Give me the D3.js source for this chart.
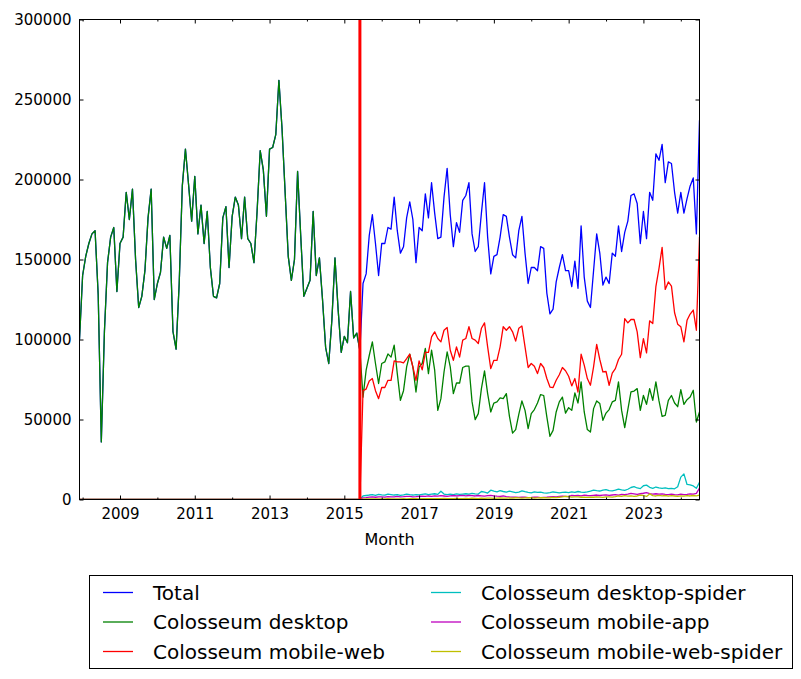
<!DOCTYPE html>
<html><head><meta charset="utf-8">
<script src="https://cdn.jsdelivr.net/npm/d3@7"></script>
<style>body{margin:0;background:#fff} svg{display:block} text{font-family:"DejaVu Sans",sans-serif}</style>
</head><body><svg id="c" width="801" height="679"></svg>
<script>
// Monthly page views, Dec 2007 .. Jul 2024
const firstYear = 2007, firstMonth = 12; // month index 0 = 2007-12
// Legacy counts (Dec 2007 .. Jun 2015): Total == Colosseum desktop
const legacyViews = [
100000,140000,152000,160000,166000,168000,128000,36000,105000,148000,164000,170000,
130000,160000,164000,192000,175000,194000,150000,120000,127000,143000,176000,194000,
125000,135000,142000,164000,157000,165000,105000,94000,135000,196000,219000,197000,
174000,202000,166000,184000,160000,180000,145000,127000,126000,135000,176000,183000,
145000,177000,189000,184000,163000,189000,163000,160000,148000,180000,218000,206000,
177000,219000,220000,228000,262000,232000,192000,152000,137000,150000,205000,165000,
127000,132000,137000,180000,140000,151000,125000,95000,85000,112000,151000,119000,
92000,102000,98000,130000,101000,104000,93000];
// Jul 2015 .. Jul 2024
const totalNew = [
135000,141000,165000,178000,160000,140000,160000,160000,170000,169000,189000,168000,
154000,158000,176000,186000,175000,148000,170000,168000,191000,176000,198000,179000,
163000,164000,189000,207000,178000,158000,173000,167000,187000,190000,198000,166000,
155000,158000,179000,198000,164000,141000,152000,153000,164000,178000,177000,164000,
153000,151000,168000,177000,154000,135000,145000,145000,143000,158000,157000,129000,
116000,119000,136000,145000,153000,143000,143000,133000,149000,132000,171000,139000,
124000,120000,143000,166000,154000,134000,139000,135000,154000,152000,171000,155000,
167000,174000,190000,191000,185000,160000,180000,163000,192000,187000,216000,212000,
222000,198000,211000,210000,192000,179000,192000,179000,188000,196000,201000,166000,237000];
const desktopNew = [
64000,80800,90000,98500,85000,72500,85000,86000,91000,89000,96500,78700,
62000,68000,82900,90800,82900,67200,82900,85000,94400,78700,93300,80800,
55700,63000,79700,92200,82900,66200,72800,72800,82500,83300,83300,61000,
49900,53700,69300,80400,66200,54700,60300,61000,63500,63000,66200,52000,
41500,43700,53200,61600,55700,44300,53700,56200,60300,65600,65000,51600,
39500,43200,54700,61000,64000,54000,57400,55700,66600,60300,73500,54700,
43700,42200,56800,61600,60000,49500,54000,56200,61000,62000,73500,55700,
44900,56200,67200,67800,69300,55700,65000,59500,69300,62000,73500,61600,
52000,52600,62000,65000,60300,58000,68700,59500,62400,64000,68300,48400,54700];
const mobileWebNew = [
68000,69000,74000,75600,68000,63000,70000,70000,74500,74500,86600,86000,
86000,85400,88000,90800,82900,74500,86600,81000,92000,92000,101600,104800,
100600,98500,105800,107500,93300,87000,95400,89000,99600,100600,108000,100600,
99600,97500,107000,110400,95400,81800,87000,87000,95400,108000,105800,108000,
104800,99000,107000,108400,95400,82500,85000,83300,78700,85000,82500,75600,
70300,70000,74500,78000,82500,80500,77000,71000,75600,67200,90800,84000,
75600,71400,82900,97000,87500,79700,80000,71400,79000,81800,87500,90800,
113000,110400,112500,112500,104800,88700,100600,91600,111700,110000,133000,144500,
157600,131300,136000,133400,116700,109600,108000,98500,112000,115900,118400,105800,164000];
const desktopSpiderNew = [
2200,2500,2800,3000,2600,3200,2900,2700,3400,3100,2800,3000,
2600,2900,3300,3000,2800,3100,2900,3200,3500,3000,3300,3600,
3200,5200,3400,3000,3300,3100,3500,3200,3400,3600,3300,3800,
3500,3400,5000,4600,4000,5800,5200,4800,5500,5000,4600,5200,
4800,4300,4600,5400,4900,4500,4200,4800,4400,4600,4200,4000,
4300,4700,4500,4100,4400,4600,4300,4800,4500,5000,4600,4400,
4700,5200,5800,5500,5300,5900,6200,5600,5400,5800,6500,6000,
5700,6400,7500,8000,7200,6800,8600,9000,7600,7000,7800,7200,
6900,7300,6800,7000,6700,8000,14000,16000,9400,9200,8500,7000,10800];
const mobileAppNew = [
1000,1200,1500,1600,1400,1700,1600,1500,1800,1700,1600,1900,
1700,1800,2000,1900,1700,1800,2000,2100,1900,2200,2000,2300,
2100,2400,2200,2000,2300,2500,2200,2400,2600,2300,2500,2400,
2200,2500,2300,2100,2400,2600,2300,2100,2000,2200,1800,1600,
1500,1400,1300,1500,1400,1200,1300,1500,1400,1200,1300,1400,
1600,1800,1700,1900,2100,2000,1800,2600,2400,2500,2300,2700,
2500,2400,2600,2800,2500,2700,2900,2600,2800,3000,2700,3200,
3000,3300,3800,3500,3200,3600,3900,4300,3700,3400,3600,3300,
3500,3200,3000,3400,3100,2900,3300,3000,3200,3500,3300,3800,7200];
const mobileWebSpiderNew = [
200,300,300,400,300,400,300,400,500,400,300,400,
400,500,400,500,600,500,400,500,600,500,600,500,
600,500,700,600,500,600,700,600,500,700,600,800,
700,600,800,700,900,800,700,900,1000,800,900,1000,
900,1100,1000,800,1000,1200,1100,900,1000,1100,1200,1000,
1100,1300,1200,1400,1600,2000,1800,1500,1700,1600,1400,1500,
1300,1500,1400,1600,1500,1300,1600,1700,1500,1800,2200,2000,
2400,2100,2300,2000,2200,2800,2500,1900,3500,2400,2200,2600,
2300,2500,2100,2400,2200,2000,2300,2100,2400,2200,2500,2300,2800];
const seriesNames = ["Total","Colosseum desktop","Colosseum mobile-web","Colosseum desktop-spider","Colosseum mobile-app","Colosseum mobile-web-spider"];
const yTickValues = [0,50000,100000,150000,200000,250000,300000];
const markerMonthIndex = 90; // 2015-06, start of new data
const colors = ["#0000ff","#008000","#ff0000","#00bfbf","#bf00bf","#bfbf00"];

const zerosLegacy = legacyViews.map(() => 0);
const seriesData = [
  legacyViews.concat(totalNew),
  legacyViews.concat(desktopNew),
  zerosLegacy.concat(mobileWebNew),
  zerosLegacy.concat(desktopSpiderNew),
  zerosLegacy.concat(mobileAppNew),
  zerosLegacy.concat(mobileWebSpiderNew)
];
const n = seriesData[0].length;
const yearOf = i => firstYear + Math.floor((firstMonth - 1 + i) / 12);

const svg = d3.select("#c");
const L = 79.5, R = 699.5, T = 19.5, B = 499.5;
const x = d3.scaleLinear().domain([0, n - 1]).range([L, R]);
const y = d3.scaleLinear().domain([0, 300000]).range([B, T]);

svg.append("defs").append("clipPath").attr("id","clip")
  .append("rect").attr("x",L).attr("y",T).attr("width",R-L).attr("height",B-T);

const plot = svg.append("g").attr("clip-path","url(#clip)");
const line = d3.line().x((d,i) => x(i)).y(d => y(d));
seriesData.forEach((s, k) => {
  plot.append("path").datum(s).attr("d", line)
    .attr("fill","none").attr("stroke", colors[k]).attr("stroke-width",1.3)
    .attr("stroke-linejoin","round");
});
plot.append("line").attr("x1", x(markerMonthIndex)).attr("x2", x(markerMonthIndex))
  .attr("y1", y(0)).attr("y2", y(300000)).attr("stroke","#ff0000").attr("stroke-width",3);

// year ticks: January of each year
const janIdx = [];
for (let i = 0; i < n; i++) if ((firstMonth - 1 + i) % 12 === 0) janIdx.push(i);
const majorIdx = janIdx.filter(i => yearOf(i) % 2 === 1);
const minorIdx = janIdx.filter(i => yearOf(i) % 2 === 0);

function style(g, labels) {
  g.select(".domain").remove();
  g.selectAll(".tick line").attr("stroke","#000").attr("stroke-width",1);
  g.selectAll("text").attr("font-size", labels ? "15px" : "0px")
    .attr("font-family","DejaVu Sans, sans-serif").attr("fill","#000");
  g.attr("font-family", null).attr("font-size", null);
}
svg.append("g").attr("transform",`translate(${L},0)`)
  .call(d3.axisLeft(y).tickValues(yTickValues).tickFormat(d3.format("d")).tickSizeInner(-4).tickSizeOuter(0).tickPadding(8))
  .call(g => style(g, true));
svg.append("g").attr("transform",`translate(${R},0)`)
  .call(d3.axisRight(y).tickValues(yTickValues).tickFormat("").tickSizeInner(-4).tickSizeOuter(0))
  .call(g => style(g, false));
svg.append("g").attr("transform",`translate(0,${B})`)
  .call(d3.axisBottom(x).tickValues(majorIdx).tickFormat(i => String(yearOf(i))).tickSizeInner(-4).tickSizeOuter(0).tickPadding(8.5))
  .call(g => style(g, true));
svg.append("g").attr("transform",`translate(0,${B})`)
  .call(d3.axisBottom(x).tickValues(minorIdx).tickFormat("").tickSizeInner(-2).tickSizeOuter(0))
  .call(g => style(g, false));
svg.append("g").attr("transform",`translate(0,${T})`)
  .call(d3.axisTop(x).tickValues(majorIdx).tickFormat("").tickSizeInner(-4).tickSizeOuter(0))
  .call(g => style(g, false));
svg.append("g").attr("transform",`translate(0,${T})`)
  .call(d3.axisTop(x).tickValues(minorIdx).tickFormat("").tickSizeInner(-2).tickSizeOuter(0))
  .call(g => style(g, false));

svg.append("rect").attr("x",L).attr("y",T).attr("width",R-L).attr("height",B-T)
  .attr("fill","none").attr("stroke","#000").attr("stroke-width",1);

svg.append("text").attr("x",(L+R)/2).attr("y",545).attr("text-anchor","middle")
  .attr("font-size","16px").attr("fill","#000").text("Month");

// legend
const lg = svg.append("g");
lg.append("rect").attr("x",89.5).attr("y",575.5).attr("width",703).attr("height",93)
  .attr("fill","#fff").attr("stroke","#000").attr("stroke-width",1);
seriesNames.forEach((name, k) => {
  const col = Math.floor(k / 3), row = k % 3;
  const lx = col === 0 ? 103 : 431;
  const ly = 592.5 + row * 29.5;
  lg.append("line").attr("x1",lx).attr("x2",lx+30).attr("y1",ly).attr("y2",ly)
    .attr("stroke",colors[k]).attr("stroke-width",1.3);
  lg.append("text").attr("x",lx+50).attr("y",ly).attr("dy","0.36em")
    .attr("font-size","20px").attr("fill","#000").text(name);
});
</script></body></html>
